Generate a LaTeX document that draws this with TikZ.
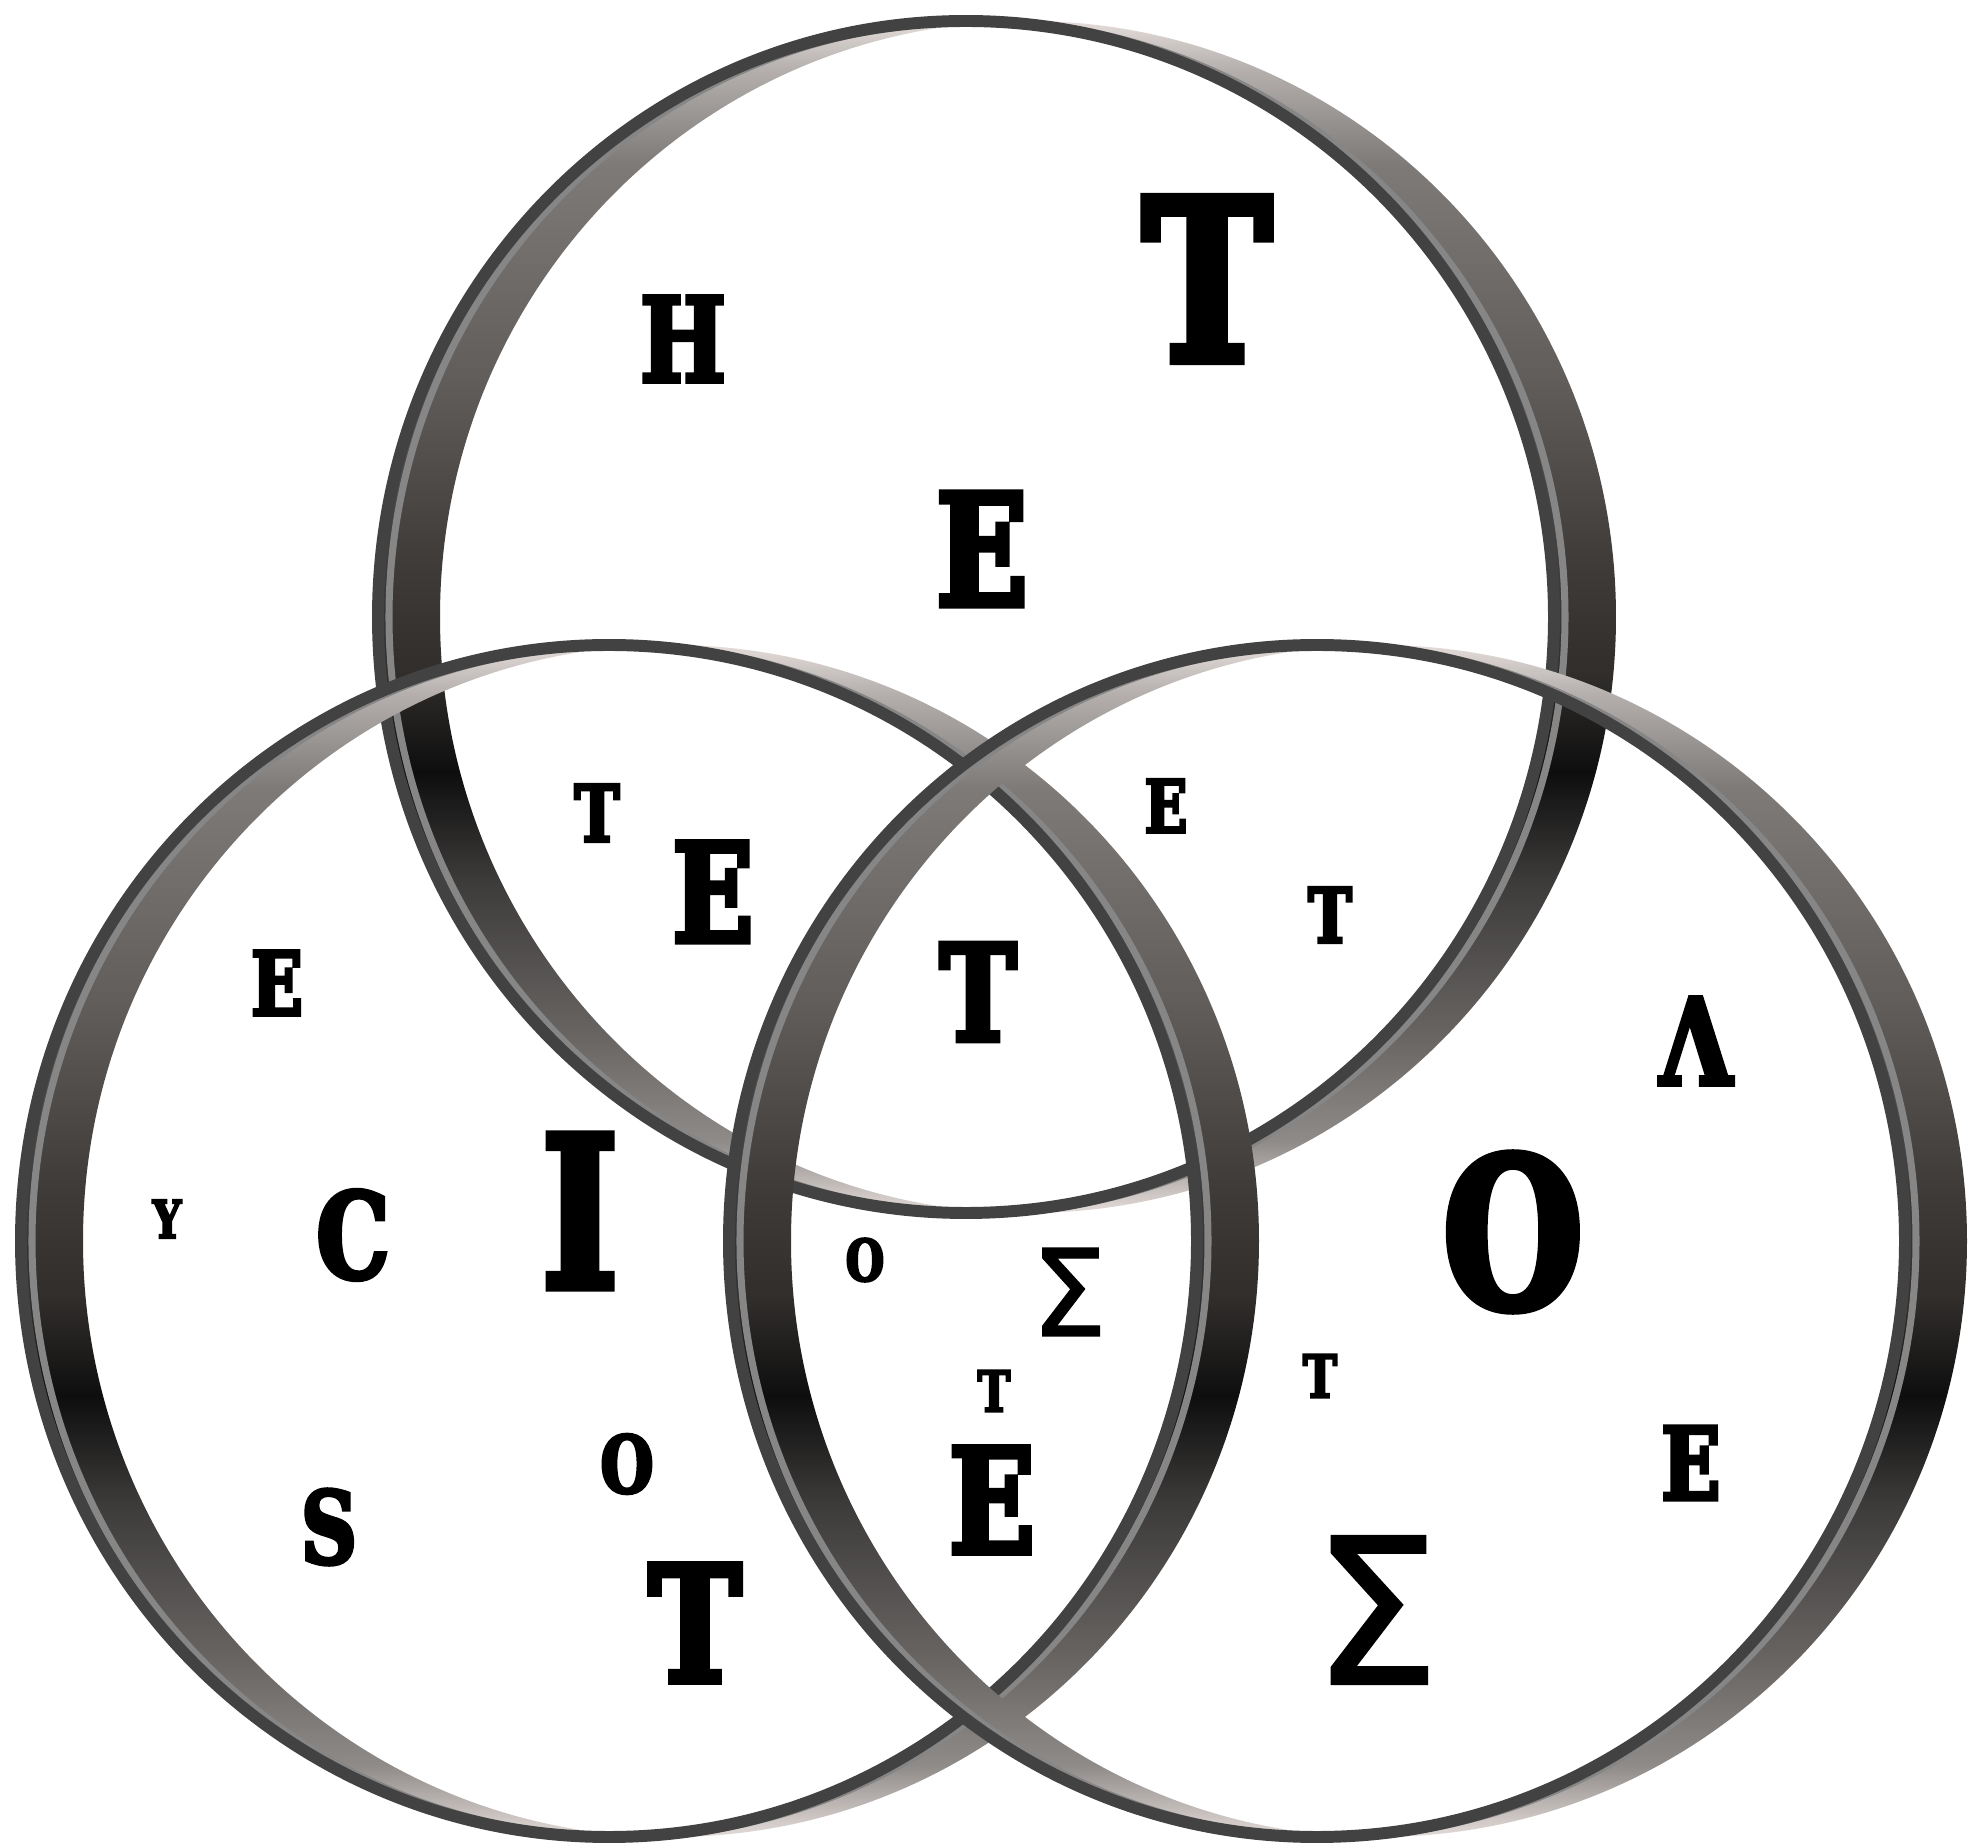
\documentclass[tikz,border=0pt]{standalone}
\usepackage{fontspec}
\setmainfont{DejaVu Serif}
\newfontfamily\slabfont[FakeStretch=0.77, BoldFeatures={FakeBold=4}]{DejaVu Serif}
\newfontfamily\sigmafont[FakeBold=1]{DejaVu Sans}
\usepackage{tikz}
\usetikzlibrary{calc}
\definecolor{rimdark}{RGB}{66,66,66}
\definecolor{rimlight}{RGB}{134,134,134}
\definecolor{bandpale}{RGB}{228,220,217}
\definecolor{bandA}{RGB}{181,176,174}
\definecolor{bandB}{RGB}{125,122,120}
\definecolor{bandC}{RGB}{97,93,91}
\definecolor{bandD}{RGB}{64,60,58}
\definecolor{bandE}{RGB}{48,45,43}
\definecolor{bandF}{RGB}{14,14,14}
\definecolor{bandG}{RGB}{61,59,58}
\definecolor{bandH}{RGB}{103,100,98}
\definecolor{bandI}{RGB}{143,139,137}
\pgfdeclareverticalshading{bandshade}{100bp}{color(0bp)=(bandpale); color(25bp)=(bandpale);
  color(28bp)=(bandI); color(32.5bp)=(bandH); color(39bp)=(bandG); color(43.5bp)=(bandF);
  color(47.5bp)=(bandE); color(52.5bp)=(bandD); color(60bp)=(bandC); color(69bp)=(bandB);
  color(73bp)=(bandA); color(75bp)=(bandpale); color(100bp)=(bandpale)}
\tikzset{
  letter/.style={font=\slabfont\bfseries\fontsize{#1}{#1}\selectfont, inner sep=0pt},
  greek/.style={font=\sigmafont\fontsize{#1}{#1}\selectfont, inner sep=0pt},
  band/.style={shading=bandshade, even odd rule},
  rimline/.style={draw=rimdark, line width=3.4pt},
  glint/.style={draw=rimlight, line width=2pt}
}
\begin{document}
\begin{tikzpicture}[x=0.01cm, y=-0.01cm]
  \clip (0,0) rectangle (1971,1843);
  \fill[white] (0,0) rectangle (1971,1843);

  % Rings: top, left, right (later ones lie over earlier ones)
  \foreach \cx/\cy in {966/617, 609/1241, 1317/1241} {
    \shade[band] (\cx,\cy) ellipse[x radius=588, y radius=596]
      (\cx+62,\cy) ellipse[x radius=588, y radius=596];
    \draw[glint] (\cx+11,\cy) ellipse[x radius=588, y radius=596];
    \draw[rimline] (\cx,\cy) ellipse[x radius=588, y radius=596];
  }

  % Top ring
  \node[letter=33.2pt] (hTop) at (683,339) {H};
  \node[letter=63.6pt] (tTop) at (1207,279) {T};
  \node[letter=44.1pt] (eTop) at (982,549) {E};
  % Top and left
  \node[letter=22.2pt] (tTopLeft) at (597,813) {T};
  \node[letter=39pt] (eTopLeft) at (713,892) {E};
  % Top and right
  \node[letter=20.7pt] (eTopRight) at (1166,806) {E};
  \node[letter=21.5pt] (tTopRight) at (1330,915) {T};
  % All three
  \node[letter=37.9pt] (tMid) at (978,992) {T};
  % Left ring
  \node[letter=25pt] (eLeft) at (277,983) {E};
  \node[letter=14.8pt] (yLeft) at (167,1219) {Y};
  \node[letter=33.7pt] (cLeft) at (353,1235) {C};
  \node[letter=59.7pt] (iLeft) at (580,1211) {I};
  \node[letter=22.4pt] (oLeft) at (627,1464) {O};
  \node[letter=28.4pt] (sLeft) at (329,1527) {S};
  \node[letter=45.7pt] (tLeft) at (695,1623) {T};
  % Left and right
  \node[letter=16.3pt] (oLeftRight) at (865,1260) {O};
  \node[greek=34.3pt] (sigLeftRight) at (1069,1292) {Σ};
  \node[letter=16pt] (tLeftRight) at (994,1391) {T};
  \node[letter=41.4pt] (eLeftRight) at (992,1500) {E};
  % Right ring
  \node[letter=34pt] (lamRight) at (1696,1041) {Λ};
  \node[letter=59.1pt] (oRight) at (1513,1232) {O};
  \node[letter=16.8pt] (tRight) at (1320,1376) {T};
  \node[letter=28.5pt] (eRight) at (1691,1463) {E};
  \node[greek=57.8pt] (sigRight) at (1376,1610) {Σ};
\end{tikzpicture}
\end{document}
